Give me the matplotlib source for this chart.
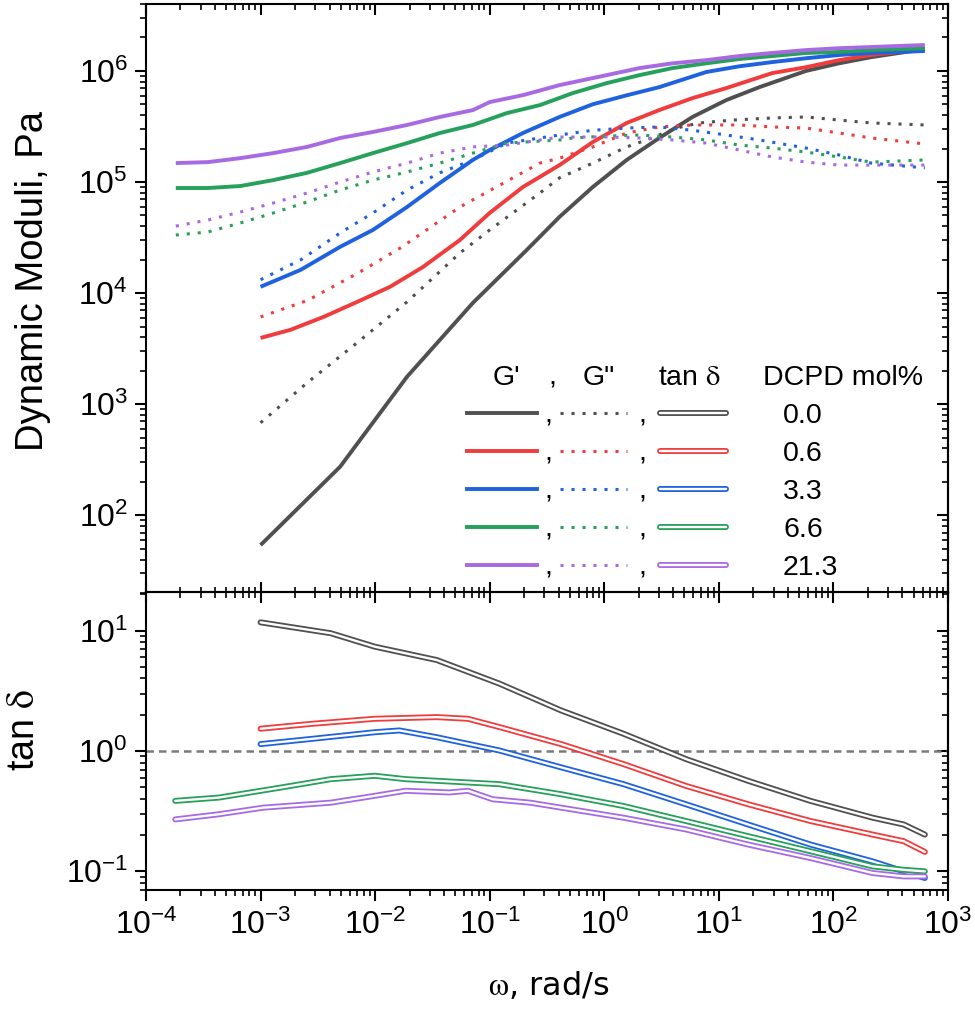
import numpy as np
import matplotlib
matplotlib.use("Agg")
import matplotlib.pyplot as plt
from matplotlib.ticker import LogLocator, NullFormatter
from matplotlib.legend_handler import HandlerBase
from matplotlib.lines import Line2D
from matplotlib.text import Text

plt.rcParams['font.family'] = ['Liberation Sans', 'DejaVu Sans']
plt.rcParams['mathtext.fontset'] = 'stix'

# ---- data ----
labels = ['0.0', '0.6', '3.3', '6.6', '21.3']
colors = ['#505050', '#f03c3c', '#1f62e0', '#26a05a', '#a86ae2']

# storage modulus G' (Pa)
w_gp_0 = [0.001, 0.00495, 0.019, 0.0713, 0.21, 0.407, 0.794, 1.57, 3.02, 5.89, 11.6, 22.6, 57.8, 112, 214, 628]
gp_0 = [54, 274, 1770, 8170, 24400, 48600, 90200, 158000, 249000, 385000, 546000, 714000, 1.0e6, 1.17e6, 1.33e6, 1.57e6]
w_gp_1 = [0.001, 0.00182, 0.00355, 0.00697, 0.0135, 0.0262, 0.055, 0.1, 0.195, 0.407, 0.794, 1.57, 3.02, 5.89, 11.6, 29.2, 57.8, 112, 214, 628]
gp_1 = [3950, 4670, 6110, 8340, 11400, 17200, 30100, 52700, 90200, 142000, 229000, 340000, 444000, 569000, 700000, 955000, 1.08e6, 1.25e6, 1.39e6, 1.57e6]
w_gp_2 = [0.001, 0.00224, 0.00495, 0.00955, 0.019, 0.0367, 0.0713, 0.1, 0.195, 0.407, 0.794, 1.57, 3.02, 7.76, 15.1, 29.2, 57.8, 112, 214, 628]
gp_2 = [11400, 16200, 26100, 37000, 59600, 98000, 158000, 194000, 276000, 385000, 501000, 603000, 714000, 977000, 1.10e6, 1.20e6, 1.30e6, 1.39e6, 1.45e6, 1.51e6]
w_gp_3 = [1.82e-4, 3.47e-4, 6.67e-4, 0.00129, 0.00255, 0.00495, 0.00955, 0.019, 0.0367, 0.0713, 0.141, 0.274, 0.53, 1.05, 2.03, 3.94, 7.76, 15.1, 29.2, 57.8, 112, 214, 628]
gp_3 = [88300, 88300, 92000, 104000, 121000, 148000, 182000, 224000, 276000, 326000, 417000, 492000, 631000, 776000, 916000, 1.06e6, 1.17e6, 1.28e6, 1.36e6, 1.45e6, 1.48e6, 1.54e6, 1.60e6]
w_gp_4 = [1.82e-4, 3.47e-4, 6.67e-4, 0.00129, 0.00255, 0.00495, 0.00955, 0.019, 0.0367, 0.0713, 0.1, 0.195, 0.407, 1.05, 2.03, 3.94, 7.76, 15.1, 29.2, 57.8, 112, 214, 628]
gp_4 = [148000, 151000, 164000, 182000, 207000, 249000, 282000, 326000, 385000, 444000, 524000, 605000, 745000, 916000, 1.06e6, 1.17e6, 1.25e6, 1.36e6, 1.45e6, 1.54e6, 1.60e6, 1.64e6, 1.71e6]

# loss modulus G'' (Pa)
w_gpp_0 = [0.001, 0.00255, 0.00697, 0.019, 0.055, 0.1, 0.274, 0.407, 0.794, 1.57, 2.34, 4.27, 6.76, 13.2, 29.2, 57.8, 112, 214, 628]
gpp_0 = [681, 1560, 3580, 8340, 23000, 37000, 79600, 109000, 148000, 207000, 239000, 306000, 340000, 361000, 377000, 385000, 361000, 340000, 326000]
w_gpp_1 = [0.001, 0.00257, 0.00697, 0.0166, 0.055, 0.274, 0.407, 0.794, 1.57, 3.02, 5.89, 15.1, 29.2, 57.8, 112, 214, 628]
gpp_1 = [6110, 8600, 15000, 25500, 59600, 148000, 164000, 207000, 276000, 313000, 326000, 326000, 313000, 306000, 276000, 249000, 220000]
w_gpp_2 = [0.001, 0.00224, 0.00495, 0.00955, 0.019, 0.0367, 0.0713, 0.141, 0.407, 0.794, 1.57, 3.02, 5.89, 11.6, 22.6, 57.8, 112, 214, 628]
gpp_2 = [13200, 19900, 34800, 52600, 84700, 121000, 158000, 224000, 265000, 292000, 306000, 313000, 292000, 265000, 239000, 202000, 175000, 148000, 134000]
w_gpp_3 = [1.82e-4, 3.47e-4, 6.67e-4, 0.00129, 0.00255, 0.00495, 0.00955, 0.019, 0.0367, 0.0713, 0.141, 0.407, 0.53, 1.05, 2.03, 3.94, 7.76, 15.1, 29.2, 57.8, 112, 214, 628]
gpp_3 = [33300, 35500, 42800, 52600, 66100, 84700, 104000, 123000, 148000, 182000, 224000, 239000, 249000, 259000, 265000, 254000, 239000, 215000, 202000, 186000, 168000, 151000, 158000]
w_gpp_4 = [1.82e-4, 3.47e-4, 6.67e-4, 0.00129, 0.00255, 0.00495, 0.00955, 0.019, 0.0367, 0.0713, 0.141, 0.407, 1.05, 2.03, 3.94, 7.76, 15.1, 29.2, 57.8, 112, 214, 628]
gpp_4 = [40100, 45500, 53700, 64700, 79600, 100000, 123000, 148000, 182000, 207000, 215000, 254000, 254000, 249000, 239000, 224000, 194000, 168000, 151000, 142000, 142000, 142000]

# loss tangent
w_tan_0 = [0.001, 0.0041, 0.0099, 0.0345, 0.121, 0.42, 1.47, 5.15, 18.0, 63.0, 220, 411, 628]
tan_0 = [11.7, 9.5, 7.35, 5.69, 3.63, 2.17, 1.39, 0.857, 0.565, 0.385, 0.279, 0.245, 0.202]
w_tan_1 = [0.001, 0.0028, 0.0099, 0.0345, 0.0646, 0.121, 0.42, 1.47, 5.15, 18.0, 63.0, 220, 411, 628]
tan_1 = [1.53, 1.68, 1.85, 1.91, 1.85, 1.58, 1.14, 0.778, 0.513, 0.361, 0.262, 0.202, 0.178, 0.145]
w_tan_2 = [0.001, 0.0028, 0.0099, 0.0163, 0.0345, 0.121, 0.42, 1.47, 5.15, 18.0, 63.0, 220, 411, 628]
tan_2 = [1.14, 1.26, 1.43, 1.48, 1.30, 1.01, 0.731, 0.530, 0.361, 0.245, 0.167, 0.121, 0.100, 0.088]
w_tan_3 = [1.8e-4, 4.33e-4, 0.00151, 0.0041, 0.0099, 0.0185, 0.0345, 0.121, 0.42, 1.47, 5.15, 18.0, 63.0, 220, 411, 628]
tan_3 = [0.385, 0.410, 0.497, 0.583, 0.622, 0.583, 0.565, 0.530, 0.437, 0.349, 0.262, 0.196, 0.147, 0.110, 0.103, 0.100]
w_tan_4 = [1.8e-4, 4.33e-4, 0.00105, 0.0041, 0.0099, 0.0185, 0.0444, 0.0646, 0.106, 0.225, 0.42, 1.47, 5.15, 18.0, 63.0, 220, 411, 628]
tan_4 = [0.270, 0.298, 0.338, 0.372, 0.424, 0.467, 0.452, 0.467, 0.397, 0.372, 0.338, 0.279, 0.223, 0.167, 0.129, 0.0968, 0.0908, 0.0908]

gp = [(w_gp_0, gp_0), (w_gp_1, gp_1), (w_gp_2, gp_2), (w_gp_3, gp_3), (w_gp_4, gp_4)]
gpp = [(w_gpp_0, gpp_0), (w_gpp_1, gpp_1), (w_gpp_2, gpp_2), (w_gpp_3, gpp_3), (w_gpp_4, gpp_4)]
tand = [(w_tan_0, tan_0), (w_tan_1, tan_1), (w_tan_2, tan_2), (w_tan_3, tan_3), (w_tan_4, tan_4)]

DOTS = (0, (1, 2.6))
TICK_FS = 23
OUTER, INNER = 4.3, 1.7


class RowHandler(HandlerBase):
    # one legend row: G' line , G'' dots , hollow tan-delta line
    def create_artists(self, legend, orig_handle, xdescent, ydescent,
                       width, height, fontsize, trans):
        c = orig_handle.get_color()
        y = height / 2 - ydescent
        x0 = -xdescent

        def xs(a, b):
            return [x0 + a * width, x0 + b * width]

        arts = [
            Line2D(xs(0, 0.267), [y, y], color=c, lw=2.8, transform=trans),
            Line2D(xs(0.355, 0.611), [y, y], color=c, lw=2.2, ls=DOTS, transform=trans),
            Line2D(xs(0.735, 0.99), [y, y], color=c, lw=OUTER, solid_capstyle='round', transform=trans),
            Line2D(xs(0.735, 0.99), [y, y], color='white', lw=INNER, solid_capstyle='round', transform=trans),
        ]
        for fx in (0.309, 0.668):
            arts.append(Text(x0 + fx * width, y - 0.33 * fontsize, ',', fontsize=fontsize,
                             ha='center', va='baseline', transform=trans))
        return arts


fig = plt.figure(figsize=(9.75, 10.09), dpi=100)
L, W = 146 / 975, 802 / 975
ax1 = fig.add_axes([L, 1 - 593 / 1009, W, 589 / 1009])
ax2 = fig.add_axes([L, 1 - 890 / 1009, W, 298 / 1009], sharex=ax1)

handles = []
for i in range(5):
    h, = ax1.plot(gp[i][0], gp[i][1], color=colors[i], lw=2.8, solid_capstyle='butt')
    ax1.plot(gpp[i][0], gpp[i][1], color=colors[i], lw=2.2, ls=DOTS)
    handles.append(h)

ax2.axhline(1.0, color='#7a7a7a', lw=1.8, ls=(0, (3, 2)), zorder=1)
for i in range(5):
    ax2.plot(tand[i][0], tand[i][1], color=colors[i], lw=OUTER, solid_capstyle='round', zorder=2 + i)
    ax2.plot(tand[i][0], tand[i][1], color='white', lw=INNER, solid_capstyle='round', zorder=2 + i)

for ax in (ax1, ax2):
    ax.set_xscale('log')
    ax.set_yscale('log')
    for s in ax.spines.values():
        s.set_linewidth(1.5)
ax1.set_xlim(1e-4, 1e3)
ax1.set_ylim(20, 4e6)
ax2.set_ylim(0.07, 20.9)

maj = dict(which='major', length=8, width=1.5)
mnr = dict(which='minor', length=4, width=1.2)


def set_locators(axis):
    axis.set_major_locator(LogLocator(base=10, numticks=20))
    axis.set_minor_locator(LogLocator(base=10, subs=np.arange(2, 10), numticks=20))
    axis.set_minor_formatter(NullFormatter())


for ax in (ax1, ax2):
    set_locators(ax.xaxis)
    set_locators(ax.yaxis)
    ax.tick_params(axis='y', which='both', direction='out', left=True, right=False,
                   labelsize=TICK_FS, pad=5)
    ax.tick_params(axis='y', **maj)
    ax.tick_params(axis='y', **mnr)
    sy = ax.secondary_yaxis('right')
    set_locators(sy.yaxis)
    sy.tick_params(which='both', direction='in', labelright=False)
    sy.tick_params(**maj)
    sy.tick_params(**mnr)
    sy.spines['right'].set_linewidth(1.5)

ax1.tick_params(axis='x', which='both', direction='in', top=True, bottom=True, labelbottom=False)
ax1.tick_params(axis='x', **maj)
ax1.tick_params(axis='x', **mnr)

ax2.tick_params(axis='x', which='both', direction='out', top=False, bottom=True,
                labelsize=TICK_FS, pad=6)
ax2.tick_params(axis='x', **maj)
ax2.tick_params(axis='x', **mnr)
sx = ax2.secondary_xaxis('top')
set_locators(sx.xaxis)
sx.tick_params(which='both', direction='in', labeltop=False)
sx.tick_params(**maj)
sx.tick_params(**mnr)
sx.spines['top'].set_linewidth(1.5)

ax1.set_ylabel('Dynamic Moduli, Pa', fontsize=27.5)
ax1.yaxis.set_label_coords(-0.119, 0.53)
ax2.set_ylabel(r'tan $\mathrm{\delta}$', fontsize=27)
ax2.yaxis.set_label_coords(-0.13, 0.537)
ax2.set_xlabel(r'$\mathrm{\omega}$, rad/s', fontsize=23, family=['DejaVu Sans'])
ax2.xaxis.set_label_coords(0.5025, -0.27)

# legend header
LFS = 20.5
hy = (593 - 385) / 589
for tx, xpx, ha in [("G'", 493, 'left'), (',', 552, 'center'), ('G"', 583, 'left'),
                    (r'tan $\mathrm{\delta}$', 658, 'left'), ('DCPD mol%', 763, 'left')]:
    ax1.text((xpx - 146) / 802, hy, tx, transform=ax1.transAxes, fontsize=LFS,
             ha=ha, va='baseline')

leg = ax1.legend(handles, labels, handler_map={h: RowHandler() for h in handles},
                 loc='upper left', bbox_to_anchor=((467 - 146) / 802, (593 - 403) / 589),
                 bbox_transform=ax1.transAxes, frameon=False, fontsize=LFS,
                 borderpad=0, borderaxespad=0, handlelength=9.2, handleheight=0.7,
                 handletextpad=1.9, labelspacing=0.42)

fig.savefig('out.png', dpi=100)
